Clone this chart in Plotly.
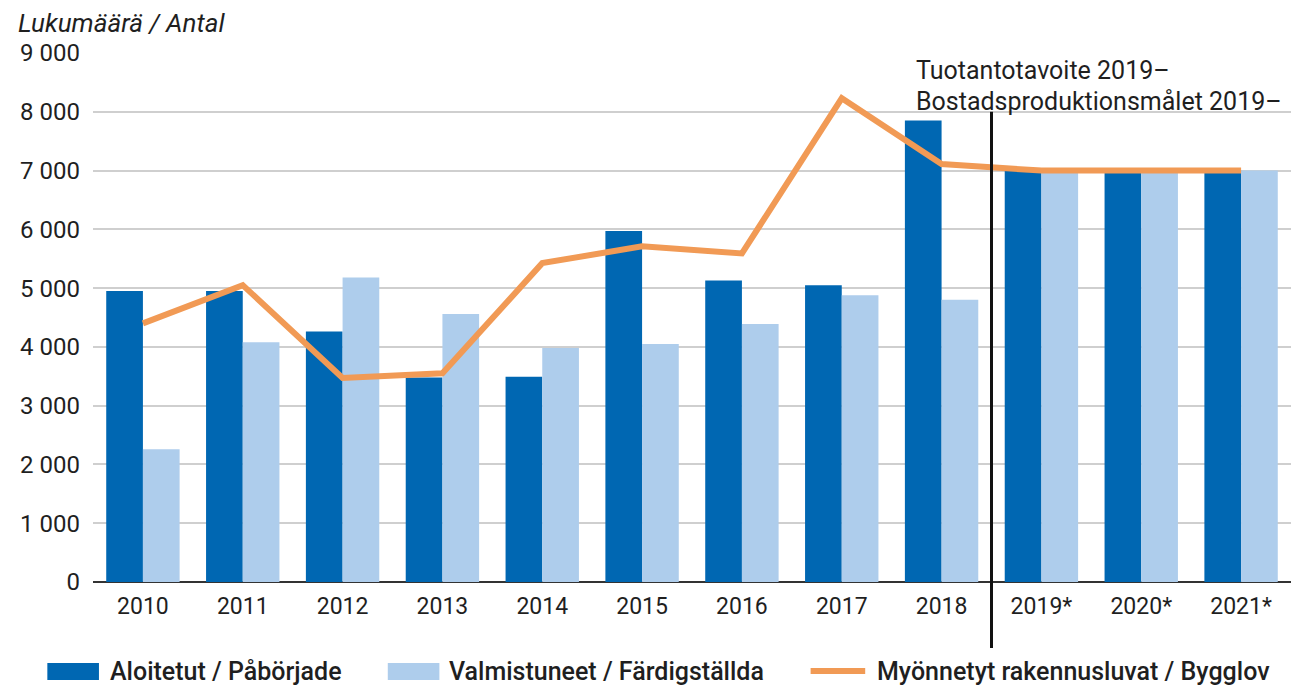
import plotly.graph_objects as go

years = ["2010", "2011", "2012", "2013", "2014", "2015", "2016", "2017", "2018", "2019*", "2020*", "2021*"]
aloitetut = [4950, 4950, 4260, 3480, 3490, 5970, 5130, 5050, 7850, 7000, 7000, 7000]
valmistuneet = [2260, 4080, 5180, 4560, 3980, 4050, 4390, 4880, 4800, 7000, 7000, 7000]
luvat = [4400, 5050, 3470, 3550, 5425, 5710, 5590, 8230, 7110, 7000, 7000, 7000]

y_ticks = [0, 1000, 2000, 3000, 4000, 5000, 6000, 7000, 8000, 9000]
y_ticklabels = ["0", "1 000", "2 000", "3 000", "4 000", "5 000", "6 000", "7 000", "8 000", "9 000"]

name_a = "Aloitetut / Påbörjade"
name_v = "Valmistuneet / Färdigställda"
name_l = "Myönnetyt rakennusluvat / Bygglov"
target_line1 = "Tuotantotavoite 2019–"
target_line2 = "Bostadsproduktionsmålet 2019–"
y_title = "Lukumäärä / Antal"

C_DARK = "#0067b2"
C_LIGHT = "#aecdec"
C_ORANGE = "#f19a55"
FONT = "Roboto, Arial, sans-serif"
TXT = "#1f1f1f"

fig = go.Figure()
fig.add_trace(go.Bar(x=years, y=aloitetut, name=name_a, marker=dict(color=C_DARK, line=dict(width=0))))
fig.add_trace(go.Bar(x=years, y=valmistuneet, name=name_v, marker=dict(color=C_LIGHT, line=dict(width=0))))
fig.add_trace(go.Scatter(x=years, y=luvat, name=name_l, mode="lines",
                         line=dict(color=C_ORANGE, width=6)))

# page body has an 8px margin; size the figure so it fills the window
OFF = 8
W, H = 1306 - OFF, 685 - OFF
L = 84 - OFF
T = 53 - OFF
PB = 582 - OFF          # plot bottom in figure px
PR = 1291 - OFF         # plot right in figure px
R = W - PR
B = H - PB
pw, ph = PR - L, PB - T

def px(xp):  # reference page px -> paper x
    return (xp - OFF - L) / pw

def py(yp):  # reference page px -> paper y
    return (PB - (yp - OFF)) / ph

shapes = []
annotations = []

# vertical separator line
shapes.append(dict(type="line", xref="x", yref="paper", x0=8.5, x1=8.5,
                   y0=py(648), y1=8000 / 9000, line=dict(color="#111111", width=3)))

annotations.append(dict(xref="paper", yref="paper", x=px(912), y=py(86), xanchor="left", yanchor="bottom",
                        text=target_line1, showarrow=False, align="left", borderpad=0,
                        font=dict(family=FONT, size=25, color=TXT)))
annotations.append(dict(xref="paper", yref="paper", x=px(912), y=py(86), xanchor="left", yanchor="top",
                        text=target_line2, showarrow=False, align="left", borderpad=0,
                        font=dict(family=FONT, size=25, color=TXT)))

annotations.append(dict(xref="paper", yref="paper", x=px(6), y=py(23), xanchor="left", yanchor="middle",
                        text="<i>" + y_title + "</i>", showarrow=False,
                        font=dict(family=FONT, size=26, color=TXT)))

# manual legend
ly = 671
shapes.append(dict(type="rect", xref="paper", yref="paper", x0=px(38), x1=px(90), y0=py(680), y1=py(663),
                   fillcolor=C_DARK, line=dict(width=0)))
annotations.append(dict(xref="paper", yref="paper", x=px(99), y=py(ly), xanchor="left", yanchor="middle",
                        text=name_a, showarrow=False, font=dict(family=FONT, size=25, color=TXT, weight=500)))
shapes.append(dict(type="rect", xref="paper", yref="paper", x0=px(381), x1=px(433), y0=py(680), y1=py(663),
                   fillcolor=C_LIGHT, line=dict(width=0)))
annotations.append(dict(xref="paper", yref="paper", x=px(441), y=py(ly), xanchor="left", yanchor="middle",
                        text=name_v, showarrow=False, font=dict(family=FONT, size=25, color=TXT, weight=500)))
shapes.append(dict(type="line", xref="paper", yref="paper", x0=px(807), x1=px(862), y0=py(ly), y1=py(ly),
                   line=dict(color=C_ORANGE, width=6)))
annotations.append(dict(xref="paper", yref="paper", x=px(872), y=py(ly), xanchor="left", yanchor="middle",
                        text=name_l, showarrow=False, font=dict(family=FONT, size=25, color=TXT, weight=500)))

fig.update_layout(
    width=W, height=H,
    margin=dict(l=L, r=R, t=T, b=B, pad=0),
    paper_bgcolor="white", plot_bgcolor="white",
    barmode="group", bargap=0.265, bargroupgap=0,
    showlegend=False,
    font=dict(family=FONT, size=22, color=TXT),
    shapes=shapes, annotations=annotations,
)
fig.update_xaxes(type="category", range=[-0.5, 11.5], showgrid=False, showline=False,
                 ticks="", tickfont=dict(family=FONT, size=23, color=TXT), ticklabelstandoff=8,
                 zeroline=False)
fig.update_yaxes(range=[0, 9000], tickvals=y_ticks, ticktext=y_ticklabels,
                 showgrid=True, gridcolor="#cfcfcf", gridwidth=1.5,
                 zeroline=True, zerolinecolor="#333333", zerolinewidth=2,
                 showline=False, ticks="", ticklabelstandoff=12,
                 tickfont=dict(family=FONT, size=24, color=TXT))

fig.write_html("out.html")
